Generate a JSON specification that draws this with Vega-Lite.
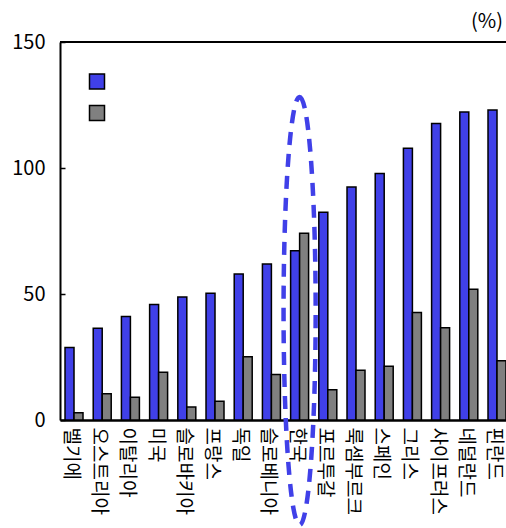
{
  "$schema": "https://vega.github.io/schema/vega-lite/v6.json",
  "width": 446,
  "height": 378,
  "autosize": {"type": "none"},
  "padding": {"left": 60, "top": 42, "right": 0, "bottom": 108},
  "background": "white",
  "config": {"view": {"stroke": null}, "font": "Noto Sans CJK KR"},
  "title": {"text": "(%)", "anchor": "end", "frame": "group", "fontSize": 20, "fontWeight": "normal", "offset": 0, "dx": -3, "color": "black"},
  "layer": [
    {
      "data": {"values": [
        {"country": "벨기에", "series": "계열1", "value": 28.8},
        {"country": "벨기에", "series": "계열2", "value": 2.9},
        {"country": "오스트리아", "series": "계열1", "value": 36.4},
        {"country": "오스트리아", "series": "계열2", "value": 10.4},
        {"country": "이탈리아", "series": "계열1", "value": 41.1},
        {"country": "이탈리아", "series": "계열2", "value": 9.0},
        {"country": "미국", "series": "계열1", "value": 45.8},
        {"country": "미국", "series": "계열2", "value": 18.9},
        {"country": "슬로바키아", "series": "계열1", "value": 48.8},
        {"country": "슬로바키아", "series": "계열2", "value": 5.2},
        {"country": "프랑스", "series": "계열1", "value": 50.3},
        {"country": "프랑스", "series": "계열2", "value": 7.4},
        {"country": "독일", "series": "계열1", "value": 57.9},
        {"country": "독일", "series": "계열2", "value": 25.1},
        {"country": "슬로베니아", "series": "계열1", "value": 61.9},
        {"country": "슬로베니아", "series": "계열2", "value": 18.1},
        {"country": "한국", "series": "계열1", "value": 67.2},
        {"country": "한국", "series": "계열2", "value": 74.1},
        {"country": "포르투갈", "series": "계열1", "value": 82.4},
        {"country": "포르투갈", "series": "계열2", "value": 12.0},
        {"country": "룩셈부르크", "series": "계열1", "value": 92.5},
        {"country": "룩셈부르크", "series": "계열2", "value": 19.7},
        {"country": "스페인", "series": "계열1", "value": 97.8},
        {"country": "스페인", "series": "계열2", "value": 21.3},
        {"country": "그리스", "series": "계열1", "value": 107.8},
        {"country": "그리스", "series": "계열2", "value": 42.7},
        {"country": "사이프러스", "series": "계열1", "value": 117.7},
        {"country": "사이프러스", "series": "계열2", "value": 36.6},
        {"country": "네덜란드", "series": "계열1", "value": 122.2},
        {"country": "네덜란드", "series": "계열2", "value": 51.9},
        {"country": "핀란드", "series": "계열1", "value": 123.0},
        {"country": "핀란드", "series": "계열2", "value": 23.5}
      ]},
      "mark": {"type": "bar", "stroke": "black", "strokeWidth": 1.5},
      "encoding": {
        "x": {
          "field": "country", "type": "nominal",
          "scale": {"domain": ["벨기에","오스트리아","이탈리아","미국","슬로바키아","프랑스","독일","슬로베니아","한국","포르투갈","룩셈부르크","스페인","그리스","사이프러스","네덜란드","핀란드"], "paddingInner": 0.362, "paddingOuter": 0.089, "align": 1},
          "axis": {"title": null, "labelAngle": 90, "labelFontSize": 19, "labelColor": "black", "ticks": false, "domainColor": "black", "domainWidth": 2.5, "labelPadding": 7, "labelOffset": -3}
        },
        "xOffset": {"field": "series", "type": "nominal", "scale": {"domain": ["계열1", "계열2"], "paddingInner": 0, "paddingOuter": 0}},
        "y": {
          "field": "value", "type": "quantitative",
          "scale": {"domain": [0, 150], "nice": false},
          "axis": {"title": null, "values": [0, 50, 100, 150], "labelFontSize": 20, "labelColor": "black", "tickColor": "black", "tickSize": -5, "tickWidth": 1.5, "domainColor": "black", "domainWidth": 2, "labelPadding": 20, "grid": false}
        },
        "color": {
          "field": "series", "type": "nominal",
          "scale": {"domain": ["계열1", "계열2"], "range": ["#4040e8", "#808080"]},
          "legend": {"orient": "none", "legendX": 28.5, "legendY": 31, "title": null, "labelExpr": "''", "symbolType": "square", "symbolSize": 225, "symbolStrokeColor": "black", "symbolStrokeWidth": 1.5, "labelFontSize": 15, "rowPadding": 10.5, "padding": 0, "symbolOffset": 0}
        }
      }
    },
    {
      "data": {"values": [{}]},
      "mark": {"type": "rule", "color": "black", "strokeWidth": 2},
      "encoding": {"y": {"datum": 150}}
    },
    {
      "data": {"values": [{"country": "한국", "value": 43.3}]},
      "mark": {"type": "point", "shape": "M0,-1 C0.0414,-1 0.075,-0.5523 0.075,0 C0.075,0.5523 0.0414,1 0,1 C-0.0414,1 -0.075,0.5523 -0.075,0 C-0.075,-0.5523 -0.0414,-1 0,-1 Z", "size": 183184, "filled": false, "stroke": "#4040e8", "strokeWidth": 4.5, "strokeDash": [13, 9], "opacity": 1, "dx": -2},
      "encoding": {
        "x": {"field": "country", "type": "nominal"},
        "y": {"field": "value", "type": "quantitative"}
      }
    }
  ]
}
